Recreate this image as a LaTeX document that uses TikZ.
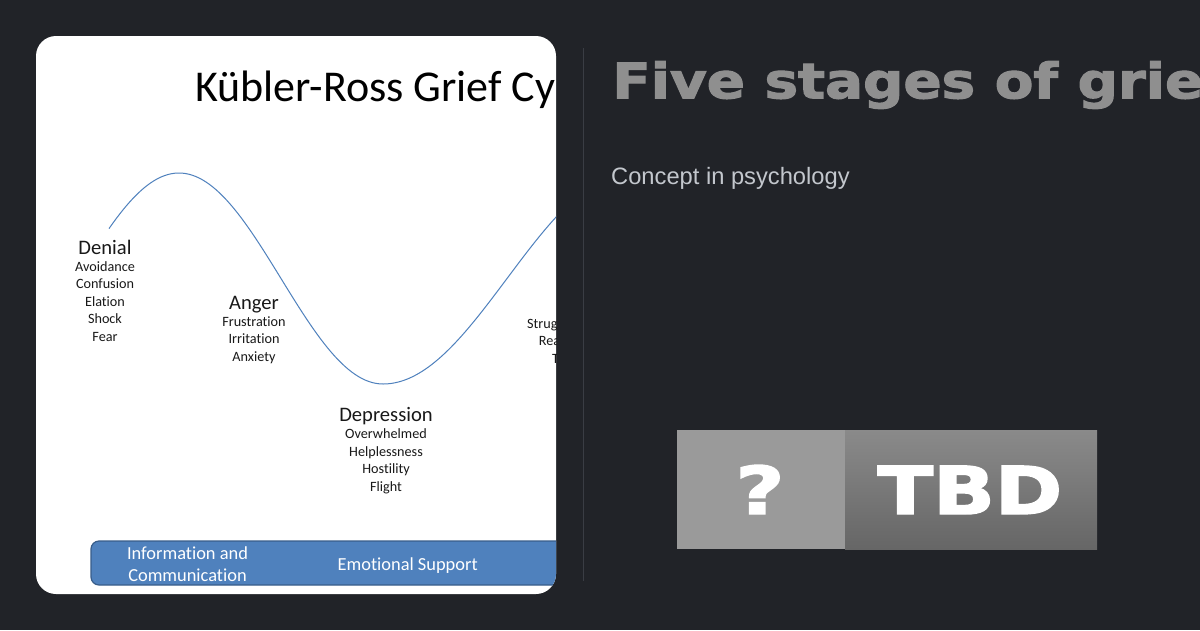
\documentclass[tikz,border=0pt]{standalone}
\usepackage{fontspec}
\newfontfamily\slidefont{Carlito}[Ligatures=CommonOff]
\newfontfamily\headfont{DejaVu Sans}[BoldFeatures={FakeBold=2.2}]
\newfontfamily\subfont{Liberation Sans}
\usetikzlibrary{positioning}
\definecolor{pagebg}{RGB}{33,35,40}
\definecolor{rulegray}{RGB}{58,61,68}
\definecolor{headgray}{RGB}{143,143,143}
\definecolor{subgray}{RGB}{195,199,205}
\definecolor{curveblue}{RGB}{79,129,189}
\definecolor{barblue}{RGB}{79,129,189}
\definecolor{barline}{RGB}{56,93,138}
\definecolor{inkblack}{RGB}{25,25,25}
\definecolor{qgray}{RGB}{154,154,154}
\definecolor{tbdtop}{RGB}{138,138,138}
\definecolor{tbdbottom}{RGB}{102,102,102}
\tikzset{
    stage/.style={anchor=base, inner sep=0pt, text=inkblack,
    font=\slidefont\fontsize{20.6}{24}\selectfont},
    feeling/.style={anchor=base, inner sep=0pt, text=inkblack,
    font=\slidefont\fontsize{14.2}{17}\selectfont},
    cut/.style={feeling, anchor=base west},
    bartext/.style={inner sep=0pt, text=white, align=center,
    font=\slidefont\fontsize{18.4}{22}\selectfont},
    badge/.style={anchor=base, inner sep=0pt, text=white,
    font=\headfont\bfseries\fontsize{66}{70}\selectfont}
}
\begin{document}
\begin{tikzpicture}[x=1pt, y=-1pt]
  \useasboundingbox (0,0) rectangle (1200,630);
  \fill[pagebg] (0,0) rectangle (1200,630);

  % slide card
  \fill[white, rounded corners=20pt] (36,36) rectangle (556,594);
  \begin{scope}
    \clip[rounded corners=20pt] (36,36) rectangle (556,594);
    \node[anchor=base west, inner sep=0pt, text=black,
      font=\slidefont\fontsize{44}{50}\selectfont] (cycle) at (195,101) {Kübler-Ross Grief Cy};

    % the curve
    \draw[curveblue, line width=1pt, domain=109:383, samples=80]
      plot (\x, {278.5-105.5*cos((\x-179)/204*180)});
    \draw[curveblue, line width=1pt, domain=383:562, samples=60]
      plot (\x, {278.5-105.5*cos(180+(\x-383)/248*180)});

    \node[stage] (denial) at (105,254) {Denial};
    \foreach \w [count=\i] in {Avoidance,Confusion,Elation,Shock,Fear}
      \node[feeling] (denial-\i) at (105,{254+17.4*\i}) {\w};

    \node[stage] (anger) at (254,309) {Anger};
    \foreach \w [count=\i] in {Frustration,Irritation,Anxiety}
      \node[feeling] (anger-\i) at (254,{309+17.4*\i}) {\w};

    \node[stage] (depression) at (386,421.5) {Depression};
    \foreach \w [count=\i] in {Overwhelmed,Helplessness,Hostility,Flight}
      \node[feeling] (depression-\i) at (386,{421.5+17.4*\i}) {\w};

    \node[cut] (strug) at (527,328.3) {Strug};
    \node[cut] (rea) at (538.7,345.7) {Rea};
    \node[cut] (tell) at (552,363) {T};

    % support bar
    \draw[fill=barblue, draw=barline, line width=1.2pt, rounded corners=8pt]
      (91,541) rectangle (620,585);
    \node[bartext] (info) at (187.5,564) {Information and\\Communication};
    \node[bartext, anchor=base] (support) at (407.7,570) {Emotional Support};
  \end{scope}

  \draw[rulegray, line width=1pt] (583,48) -- (583,581);

  \node[anchor=base west, inner sep=0pt, text=headgray,
    font=\headfont\bfseries\fontsize{49}{55}\selectfont] (heading) at (612,98.3)
    {\scalebox{1.15}[1]{Five stages of grie}};
  \node[anchor=base west, inner sep=0pt, text=subgray,
    font=\subfont\fontsize{23.7}{28}\selectfont] (concept) at (611,184.3) {Concept in psychology};

  % placeholder badge
  \fill[qgray] (677,430) rectangle (845,549);
  \shade[top color=tbdtop, bottom color=tbdbottom] (845,430) rectangle (1097,549);
  \node[badge] (query) at (760,514) {\scalebox{1.28}[1]{?}};
  \node[badge] (tbd) at (970,514) {\scalebox{1.23}[1]{TBD}};
\end{tikzpicture}
\end{document}
